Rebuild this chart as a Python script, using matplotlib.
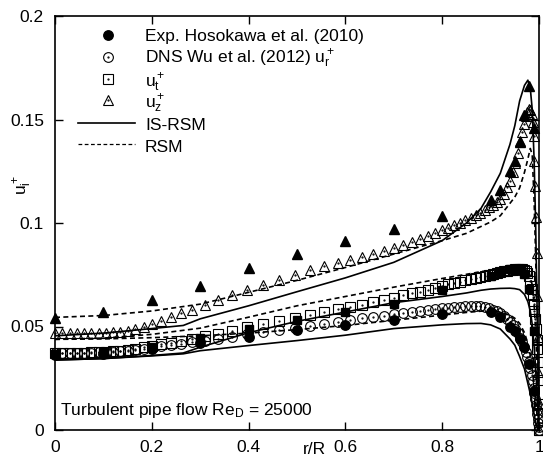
import matplotlib
matplotlib.use('Agg')
import matplotlib.pyplot as plt

plt.rcParams['font.family'] = ['Liberation Sans', 'DejaVu Sans']
plt.rcParams['mathtext.fontset'] = 'custom'
plt.rcParams['mathtext.rm'] = 'Liberation Sans'
plt.rcParams['mathtext.it'] = 'Liberation Sans'
plt.rcParams['mathtext.bf'] = 'Liberation Sans:bold'

# Exp. Hosokawa et al. (2010)
exp_r = [0.0, 0.1, 0.2, 0.3, 0.4, 0.5, 0.6, 0.7, 0.8,
         0.9, 0.92, 0.94, 0.95, 0.96, 0.97, 0.98, 0.99]
exp_ur = [0.0360, 0.0368, 0.0390, 0.0420, 0.0450, 0.0482, 0.0507, 0.0531, 0.0562,
          0.0572, 0.0547, 0.0500, 0.0480, 0.0440, 0.0400, 0.0320, 0.0190]
exp_ut = [0.0367, 0.0378, 0.0402, 0.0446, 0.0490, 0.0531, 0.0569, 0.0609, 0.0676,
          0.0745, 0.0765, 0.0778, 0.0780, 0.0775, 0.0755, 0.0680, 0.0480]
exp_uz = [0.0540, 0.0570, 0.0630, 0.0697, 0.0784, 0.0850, 0.0913, 0.0973, 0.1035,
          0.1110, 0.1158, 0.1250, 0.1300, 0.1390, 0.1520, 0.1660, 0.1460]

# DNS Wu et al. (2012)
dns_r = [0.0, 0.015, 0.03, 0.045, 0.06, 0.075, 0.09, 0.105, 0.12, 0.135,
         0.15, 0.166, 0.183, 0.201, 0.22, 0.24, 0.261, 0.284, 0.309, 0.336,
         0.366, 0.397, 0.43, 0.463, 0.495, 0.526, 0.556, 0.584, 0.61, 0.635,
         0.658, 0.68, 0.7, 0.719, 0.737, 0.754, 0.77, 0.785, 0.799, 0.812,
         0.825, 0.837, 0.848, 0.859, 0.869, 0.879, 0.888, 0.897, 0.905, 0.913,
         0.92, 0.927, 0.934, 0.94, 0.946, 0.951, 0.956, 0.961, 0.965, 0.969,
         0.973, 0.976, 0.979, 0.982, 0.985, 0.987, 0.989, 0.9905, 0.992, 0.9935,
         0.995, 0.996, 0.997, 0.998, 0.999, 1.0]
dns_ur = [0.0372, 0.0372, 0.0372, 0.0373, 0.0373, 0.0374, 0.0375, 0.0377, 0.0379, 0.0381,
          0.0384, 0.0388, 0.0393, 0.0398, 0.0404, 0.0410, 0.0416, 0.0423, 0.0431, 0.0440,
          0.0451, 0.0462, 0.0472, 0.0482, 0.0492, 0.0502, 0.0512, 0.0521, 0.0530, 0.0539,
          0.0546, 0.0553, 0.0559, 0.0565, 0.0570, 0.0575, 0.0579, 0.0583, 0.0587, 0.0590,
          0.0593, 0.0595, 0.0597, 0.0598, 0.0598, 0.0597, 0.0594, 0.0589, 0.0582, 0.0573,
          0.0563, 0.0551, 0.0537, 0.0522, 0.0505, 0.0488, 0.0468, 0.0446, 0.0425, 0.0402,
          0.0377, 0.0355, 0.0330, 0.0300, 0.0265, 0.0238, 0.0205, 0.0180, 0.0152, 0.0122,
          0.0095, 0.0075, 0.0055, 0.0035, 0.0015, 0.0]
dns_ut = [0.0372, 0.0372, 0.0373, 0.0373, 0.0374, 0.0375, 0.0377, 0.0379, 0.0381, 0.0384,
          0.0388, 0.0393, 0.0399, 0.0406, 0.0414, 0.0422, 0.0431, 0.0441, 0.0452, 0.0465,
          0.0480, 0.0496, 0.0512, 0.0527, 0.0541, 0.0556, 0.0570, 0.0583, 0.0595, 0.0606,
          0.0617, 0.0628, 0.0639, 0.0650, 0.0660, 0.0669, 0.0678, 0.0687, 0.0695, 0.0703,
          0.0710, 0.0717, 0.0724, 0.0730, 0.0736, 0.0741, 0.0746, 0.0751, 0.0755, 0.0759,
          0.0763, 0.0766, 0.0769, 0.0772, 0.0774, 0.0776, 0.0777, 0.0777, 0.0776, 0.0773,
          0.0767, 0.0757, 0.0742, 0.0718, 0.0682, 0.0650, 0.0610, 0.0575, 0.0535, 0.0488,
          0.0435, 0.0390, 0.0330, 0.0240, 0.0125, 0.0]
dns_uz = [0.0467, 0.0467, 0.0467, 0.0468, 0.0468, 0.0469, 0.0470, 0.0471, 0.0473, 0.0475,
          0.0480, 0.0490, 0.0500, 0.0513, 0.0528, 0.0545, 0.0563, 0.0582, 0.0603, 0.0627,
          0.0652, 0.0676, 0.0702, 0.0727, 0.0750, 0.0772, 0.0790, 0.0806, 0.0822, 0.0837,
          0.0852, 0.0866, 0.0879, 0.0893, 0.0907, 0.0921, 0.0936, 0.0950, 0.0964, 0.0977,
          0.0990, 0.1002, 0.1014, 0.1026, 0.1038, 0.1050, 0.1063, 0.1076, 0.1089, 0.1102,
          0.1118, 0.1142, 0.1172, 0.1205, 0.1245, 0.1290, 0.1340, 0.1395, 0.1440, 0.1480,
          0.1515, 0.1538, 0.1550, 0.1548, 0.1525, 0.1490, 0.1420, 0.1300, 0.1180, 0.1030,
          0.0855, 0.0645, 0.0450, 0.0280, 0.0130, 0.0]

# IS-RSM
isrsm_r = [0.0, 0.1, 0.2, 0.265, 0.3, 0.4, 0.5, 0.6, 0.7, 0.8, 0.85, 0.88, 0.9,
           0.92, 0.94, 0.95, 0.96, 0.97, 0.977, 0.982, 0.986, 0.99, 0.993, 0.996, 0.998, 1.0]
isrsm_ur = [0.0338, 0.0345, 0.0358, 0.0368, 0.0383, 0.0408, 0.0432, 0.0458, 0.0490, 0.0508, 0.0514, 0.0515, 0.0508,
            0.0488, 0.0440, 0.0410, 0.0355, 0.0295, 0.0225, 0.0175, 0.0130, 0.0075, 0.0040, 0.0015, 0.0005, 0.0]
isrsm_ut = [0.0338, 0.0345, 0.0360, 0.0372, 0.0400, 0.0470, 0.0525, 0.0570, 0.0615, 0.0645, 0.0662, 0.0675, 0.0681,
            0.0684, 0.0685, 0.0683, 0.0678, 0.0655, 0.0620, 0.0575, 0.0510, 0.0400, 0.0300, 0.0180, 0.0090, 0.0]
isrsm_uz = [0.0455, 0.0468, 0.0490, 0.0505, 0.0537, 0.0600, 0.0668, 0.0735, 0.0810, 0.0915, 0.1000, 0.1070, 0.1150,
            0.1240, 0.1380, 0.1470, 0.1590, 0.1665, 0.1690, 0.1650, 0.1550, 0.1300, 0.1000, 0.0600, 0.0300, 0.0]

# RSM
rsm_r = [0.0, 0.1, 0.2, 0.3, 0.4, 0.5, 0.6, 0.7, 0.8, 0.85, 0.88, 0.9, 0.92,
         0.94, 0.95, 0.96, 0.97, 0.976, 0.982, 0.986, 0.99, 0.993, 0.996, 0.998, 1.0]
rsm_ur = [0.0438, 0.0440, 0.0446, 0.0455, 0.0468, 0.0485, 0.0505, 0.0530, 0.0555, 0.0568, 0.0574, 0.0575, 0.0570,
          0.0555, 0.0540, 0.0515, 0.0470, 0.0425, 0.0360, 0.0300, 0.0210, 0.0140, 0.0070, 0.0030, 0.0]
rsm_ut = [0.0438, 0.0444, 0.0462, 0.0492, 0.0545, 0.0600, 0.0645, 0.0690, 0.0732, 0.0752, 0.0765, 0.0772, 0.0780,
          0.0788, 0.0792, 0.0793, 0.0788, 0.0775, 0.0745, 0.0700, 0.0600, 0.0480, 0.0300, 0.0160, 0.0]
rsm_uz = [0.0544, 0.0553, 0.0575, 0.0608, 0.0665, 0.0723, 0.0785, 0.0850, 0.0915, 0.0950, 0.0983, 0.1005, 0.1035,
          0.1095, 0.1125, 0.1170, 0.1245, 0.1300, 0.1360, 0.1330, 0.1100, 0.0850, 0.0500, 0.0250, 0.0]

xticks = [0, 0.2, 0.4, 0.6, 0.8, 1]
xticklabels = ['0', '0.2', '0.4', '0.6', '0.8', '1']
yticks = [0, 0.05, 0.1, 0.15, 0.2]
yticklabels = ['0', '0.05', '0.1', '0.15', '0.2']

W, H = 543, 459
fig = plt.figure(figsize=(W / 100, H / 100), dpi=100)
ax = fig.add_axes([55 / W, 29 / H, 484 / W, 414 / H])

fs = 12.5
ow = 0.8  # open marker edge width

# DNS (open symbols with centre dot, gnuplot style)
ax.plot(dns_r, dns_ur, ls='none', marker='o', ms=7, mfc='none', mec='black', mew=ow, clip_on=False)
ax.plot(dns_r, dns_ut, ls='none', marker='s', ms=6.5, mfc='none', mec='black', mew=ow, clip_on=False)
ax.plot(dns_r, dns_uz, ls='none', marker='^', ms=7.5, mfc='none', mec='black', mew=ow, clip_on=False)
for v in (dns_ur, dns_ut, dns_uz):
    ax.plot(dns_r, v, ls='none', marker='.', ms=1.2, color='black', clip_on=False)

# experiments
ax.plot(exp_r, exp_ur, ls='none', marker='o', ms=6.8, color='black', clip_on=False)
ax.plot(exp_r, exp_ut, ls='none', marker='s', ms=6.3, color='black', clip_on=False)
ax.plot(exp_r, exp_uz, ls='none', marker='^', ms=7.2, color='black', clip_on=False)

# models
for v in (isrsm_ur, isrsm_ut, isrsm_uz):
    ax.plot(isrsm_r, v, color='black', lw=1.2)
for v in (rsm_ur, rsm_ut, rsm_uz):
    ax.plot(rsm_r, v, color='black', lw=1.2, dashes=(3, 2))

ax.set_xlim(0, 1)
ax.set_ylim(0, 0.2)
ax.set_xticks(xticks)
ax.set_xticklabels(xticklabels)
ax.set_yticks(yticks)
ax.set_yticklabels(yticklabels)
ax.tick_params(direction='in', top=True, right=True, length=5.5, width=1, labelsize=fs)
ax.tick_params(axis='x', pad=7.5)
ax.tick_params(axis='y', pad=8)
for s in ax.spines.values():
    s.set_linewidth(1.2)

# axis labels (gnuplot-like placement)
fig.text(23 / W, 1 - 185 / H, r'$\mathregular{u_i^+}$', rotation=90, ha='center', va='center', fontsize=fs)
fig.text(314 / W, 1 - 450 / H, 'r/R', ha='center', va='center', fontsize=fs)

ax.text(0.0103, 0.0073, r'Turbulent pipe flow $\mathregular{Re_D}$ = 25000', fontsize=fs,
        ha='left', va='baseline')

# key, drawn by hand in pixel rows
def ax_xy(px, py):
    return (px - 55) / 484, (430 - py) / 414

keys = [
    dict(marker='o', mfc='black', ms=6.8, row=35, base=41.5,
         label='Exp. Hosokawa et al. (2010)'),
    dict(marker='o', mfc='none', ms=7, row=56.5, base=63,
         label=r'DNS Wu et al. (2012) $\mathregular{u_r^+}$'),
    dict(marker='s', mfc='none', ms=6.5, row=78.5, base=86.5,
         label=r'$\mathregular{u_t^+}$'),
    dict(marker='^', mfc='none', ms=7.5, row=100, base=108,
         label=r'$\mathregular{u_z^+}$'),
    dict(marker=None, ls='-', row=122.7, base=130, label='IS-RSM'),
    dict(marker=None, ls='--', row=144.3, base=151.5, label='RSM'),
]
for k in keys:
    if k['marker']:
        x, y = ax_xy(108, k['row'])
        ax.plot([x], [y], transform=ax.transAxes, ls='none', marker=k['marker'], ms=k['ms'],
                mfc=k['mfc'], mec='black', mew=ow if k['mfc'] == 'none' else 1, clip_on=False)
        if k['mfc'] == 'none':
            ax.plot([x], [y], transform=ax.transAxes, ls='none', marker='.', ms=1.2, color='black')
    else:
        x0, y = ax_xy(78, k['row'])
        x1, _ = ax_xy(135, k['row'])
        if k['ls'] == '-':
            ax.plot([x0, x1], [y, y], transform=ax.transAxes, color='black', lw=1.2)
        else:
            ax.plot([x0, x1], [y, y], transform=ax.transAxes, color='black', lw=0.9, dashes=(3, 2))
    tx, ty = ax_xy(145, k['base'])
    ax.text(tx, ty, k['label'], transform=ax.transAxes, fontsize=fs, ha='left', va='baseline')

fig.savefig('out.png', dpi=100)
